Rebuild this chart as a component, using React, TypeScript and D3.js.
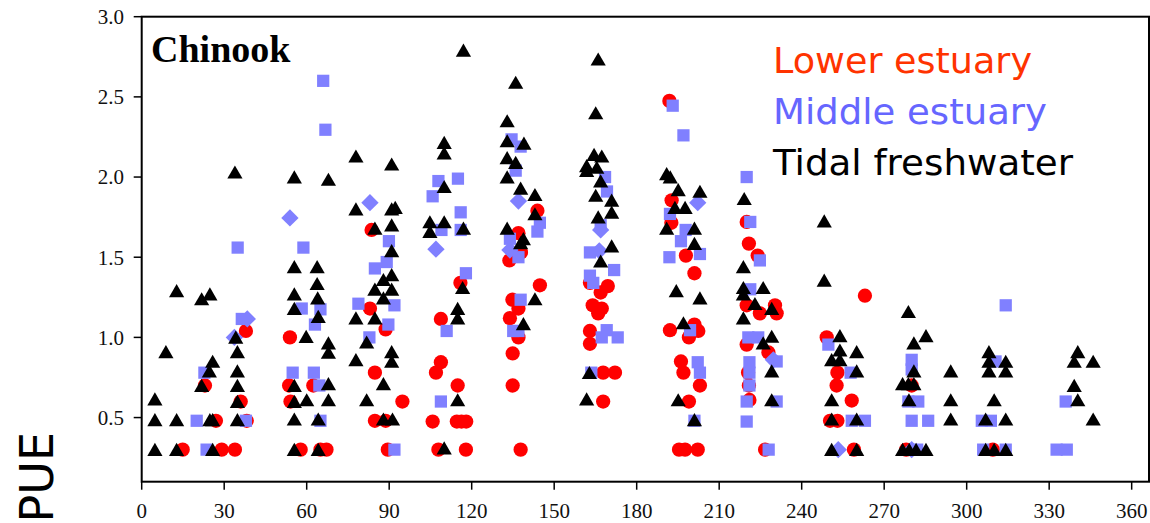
import React from 'react';
import * as d3 from 'd3';

// day of year vs PUE, three estuary zones
const xTicks = [0, 30, 60, 90, 120, 150, 180, 210, 240, 270, 300, 330, 360];
const yTicks = [0.5, 1.0, 1.5, 2.0, 2.5, 3.0];

const legendLabels = ['Lower estuary', 'Middle estuary', 'Tidal freshwater'];

// Lower estuary (red circles)
const lowerEstuary: [number, number][] = [
  [14.9,0.30],[23,0.70],[27,0.48],[29.1,0.30],[33.9,0.30],[36,0.60],[37.9,1.04],[38.2,0.48],
  [53.9,1.0],[53.6,0.70],[54.1,0.60],[57.8,0.30],[62.4,0.70],[65,0.30],[67.2,0.30],
  [83.6,1.67],[83,1.18],[84.8,0.78],[88.7,1.05],[84.8,0.48],[88.7,0.48],[89.5,0.30],[94.8,0.60],
  [108.8,1.115],[108.8,0.845],[107,0.78],[114.9,0.70],[105.8,0.475],[114.6,0.475],[116.3,0.475],[118,0.475],[107.9,0.30],[117.9,0.30],[115.9,1.34],
  [143.9,1.79],[137,1.65],[137.9,1.53],[133.7,1.48],[144.8,1.325],[134.8,1.235],[137,1.18],[133.9,1.12],[137,1.0],[134.9,0.90],[134.9,0.70],[137.8,0.30],
  [163,1.34],[169.5,1.32],[166.9,1.28],[164,1.20],[167.3,1.18],[166,1.15],[163,1.04],[163,0.96],[167.8,0.78],[172.1,0.78],[167.8,0.60],
  [191.9,2.475],[192.7,1.855],[192.6,1.715],[197.9,1.51],[201,1.40],[192.1,1.045],[201,1.08],[202.4,1.04],[199,1.0],[196.1,0.85],[197,0.78],[203,0.70],[199,0.60],[195.4,0.30],[197.6,0.30],[202.2,0.30],
  [220,1.72],[220.8,1.585],[224,1.51],[220,1.20],[224.8,1.15],[230.3,1.20],[230.9,1.15],[220,0.955],[227.9,0.906],[220.5,0.78],[220.8,0.70],[221,0.61],[226.7,0.30],
  [249.1,1.0],[263,1.26],[253,0.78],[252.7,0.70],[258.2,0.606],[250.3,0.48],[253,0.48],[259,0.30],
  [280,0.70],[278,0.30],
  [309.5,0.30],
];

// Middle estuary (blue squares)
const middleSquares: [number, number][] = [
  [20,0.48],[22.8,0.78],[23.6,0.30],[34.9,1.56],[36.4,1.115],[37.9,0.48],
  [54.9,0.78],[58.8,1.56],[58.2,1.18],[65,1.175],[63,1.08],[62.6,0.78],[64.6,0.70],[65,0.48],[66,2.6],[66.8,2.295],
  [78.8,1.21],[82.8,1.0],[84.8,1.43],[89.1,1.47],[89.9,1.60],[89.7,1.08],[91.9,1.20],[91.9,0.30],
  [107.9,1.975],[105.8,1.88],[109,1.67],[115,1.99],[116,1.78],[116,1.67],[117.9,1.40],[110.9,1.04],[108.8,0.60],
  [134.5,2.235],[137.8,2.19],[136,2.04],[144.8,1.715],[143.9,1.66],[133.9,1.615],[137,1.50],[137.8,1.235],[135.1,1.04],[137,1.04],
  [168.5,2.0],[169.2,1.91],[166.9,1.70],[163,1.53],[163,1.385],[164.2,1.34],[171.8,1.42],[167.3,1.0],[169.1,1.045],[173.1,1.0],[163.5,0.78],
  [193.1,2.445],[197,2.26],[192.1,1.77],[197.8,1.67],[196.1,1.60],[203,1.52],[191.9,1.50],[199.4,1.045],[202.2,0.845],[203,0.78],[201,0.48],
  [220,2.0],[221.3,1.72],[224.8,1.48],[221.3,1.30],[220.6,1.0],[224.2,1.0],[221,0.845],[221,0.78],[221,0.70],[220,0.60],[220,0.475],[228,0.30],[230.9,0.85],[230.9,0.60],
  [249.7,0.955],[257.8,0.78],[258.2,0.48],[263,0.48],
  [280,0.86],[280,0.80],[278.8,0.60],[282.4,0.60],[280,0.48],[286,0.48],[282,0.30],
  [314.2,1.20],[310.5,0.85],[305.5,0.48],[308.8,0.48],[306,0.30],[314.2,0.30],
  [336,0.60],[332.7,0.30],[336.4,0.30],
];

// Middle estuary (blue diamonds)
const middleDiamonds: [number, number][] = [
  [33.7,1.0],[38.4,1.115],[53.9,1.745],[83,1.84],[107,1.55],[137,1.85],[133.9,1.545],
  [166.9,1.67],[166.4,1.54],[202.2,1.84],[229.7,0.86],[253.3,0.30],[280,0.30],
];

// Tidal freshwater (black triangles)
const tidalFreshwater: [number, number][] = [
  [4.8,0.615],[4.8,0.486],[4.8,0.30],[8.8,0.91],[12.7,1.29],[12.7,0.486],[12.7,0.30],[21.8,1.24],[24.8,1.27],[25.8,0.85],[24.6,0.79],[21.8,0.70],[24.8,0.486],[25.8,0.486],[25.8,0.30],[33.9,2.03],[34.2,1.0],[34.8,0.91],[34.8,0.79],[34.8,0.70],[34.8,0.60],[34.8,0.486],
  [55.5,2.0],[67.9,1.985],[55.5,1.44],[63.8,1.44],[55.5,1.27],[63.8,1.335],[64,1.245],[55.5,1.18],[64.2,1.13],[59.8,1.005],[67.9,0.965],[67.9,0.906],[55.5,0.70],[67.9,0.71],[55.5,0.6],[60,0.61],[67.9,0.61],[55.5,0.49],[64.2,0.49],[55.5,0.30],[64.2,0.30],
  [77.9,2.13],[77.9,1.80],[77.9,1.12],[77.9,0.86],[81.8,0.97],[81.8,0.61],[84.8,1.68],[84.8,1.30],[84.8,1.12],[87.9,1.36],[87.9,1.245],[87.9,0.71],[87.9,0.49],[90.9,2.08],[90.9,1.80],[92.2,1.81],[90.9,1.70],[90.9,1.54],[90.9,1.39],[90.9,1.30],[90.9,0.91],[90.9,0.85],[91.2,0.49],
  [104.8,1.72],[104.8,1.66],[110,2.215],[110,2.15],[110,1.94],[110,1.72],[110,0.31],[117,2.79],[117,1.68],[116.7,1.31],[114.9,1.18],[114.9,1.12],[114.9,0.61],
  [136,2.59],[132.9,2.35],[132.9,2.225],[139,2.21],[132.9,2.12],[136,2.09],[132.9,2.0],[137.8,1.93],[143,1.89],[143,1.77],[132.9,1.68],[138.8,1.615],[137.8,1.59],[143,1.24],[138.8,1.085],
  [166,2.735],[165.1,2.40],[164.5,2.14],[167.3,2.13],[161.8,2.07],[161.8,2.04],[165.5,2.06],[166.9,1.975],[165.1,1.885],[170.9,1.855],[170.9,1.78],[166,1.75],[170.9,1.57],[166.9,1.475],[162.8,0.78],[161.8,0.615],
  [190.9,2.02],[192.2,2.0],[195.1,1.92],[203,1.91],[193.9,1.81],[197.6,1.81],[190.9,1.68],[201,1.68],[201,1.585],[194.4,1.29],[203,1.245],[197,1.09],[195.1,0.61],[201,0.486],
  [219.1,1.865],[218.8,1.44],[218.8,1.31],[218.8,1.27],[226,1.31],[223,1.21],[229.1,1.18],[218.8,1.12],[226,0.965],[229.1,1.006],[229.1,0.79],[229.1,0.61],
  [248.2,1.725],[248.2,1.356],[253.9,1.01],[253.9,0.92],[250.9,0.86],[253.9,0.86],[260,0.91],[260,0.79],[250.9,0.61],[250.9,0.49],[260,0.49],[250.9,0.30],[260,0.30],
  [278.8,1.16],[285.2,1.01],[280.8,0.965],[280.8,0.79],[276.7,0.71],[278.8,0.71],[280.8,0.71],[279,0.61],[276.7,0.30],[279.1,0.30],[281.6,0.30],[285.2,0.30],
  [294.2,0.79],[294.2,0.61],[294.2,0.49],
  [308.1,0.91],[308.1,0.85],[308.1,0.79],[314.2,0.85],[314.2,0.79],[310,0.61],[306.9,0.49],[314.2,0.49],[306.9,0.30],[310,0.30],[314.2,0.30],
  [340.4,0.91],[339.1,0.85],[346,0.85],[339.1,0.70],[340.4,0.61],[346,0.49],
];

const W = 1150;
const H = 523;
const left = 141.7, right = 1149, top = 16.7, bottom = 481.7;

export default function App() {
  const x = d3.scaleLinear().domain([0, 366.3]).range([left, right]);
  const y = d3.scaleLinear().domain([0.1, 3.0]).range([bottom, top]);

  const circlePath = d3.symbol(d3.symbolCircle, 160)() as string;
  const squarePath = d3.symbol(d3.symbolSquare, 150)() as string;
  const trianglePath = d3.symbol(d3.symbolTriangle, 100)() as string;

  const serif = '"Liberation Serif", "Times New Roman", serif';
  const sans = '"DejaVu Sans", sans-serif';
  const legendColors = ['#ff3300', '#6666ff', '#000000'];
  const legendWidths = [259, 274, 300];

  return (
    <svg width={W} height={H} style={{ display: 'block', position: 'absolute', left: 0, top: 0 }}>
      <rect width={W} height={H} fill="#fff" />

      {/* markers */}
      <g fill="#ff0000">
        {lowerEstuary.map((d, i) => (
          <path key={i} d={circlePath} transform={`translate(${x(d[0])},${y(d[1])})`} />
        ))}
      </g>
      <g fill="#8080ff">
        {middleSquares.map((d, i) => (
          <path key={i} d={squarePath} transform={`translate(${x(d[0])},${y(d[1])})`} />
        ))}
        {middleDiamonds.map((d, i) => (
          <path key={'d' + i} d={squarePath} transform={`translate(${x(d[0])},${y(d[1])}) rotate(45)`} />
        ))}
      </g>
      <g fill="#000">
        {tidalFreshwater.map((d, i) => (
          <path key={i} d={trianglePath} transform={`translate(${x(d[0])},${y(d[1]) + 2})`} />
        ))}
      </g>

      {/* frame */}
      <rect x={left} y={top} width={right - left} height={bottom - top} fill="none" stroke="#000" strokeWidth={2} />

      {/* x axis */}
      <g>
        {xTicks.map((t) => (
          <g key={t}>
            <line x1={x(t)} x2={x(t)} y1={bottom} y2={bottom + 8} stroke="#000" strokeWidth={1.5} />
            <text x={x(t)} y={518} textAnchor="middle" fontFamily={serif} fontSize={21} fill="#111">
              {t}
            </text>
          </g>
        ))}
      </g>

      {/* y axis */}
      <g>
        {yTicks.map((t) => (
          <g key={t}>
            <line x1={left - 8} x2={left} y1={y(t)} y2={y(t)} stroke="#000" strokeWidth={1.5} />
            <text x={124} y={y(t)} dy="0.35em" textAnchor="end" fontFamily={serif} fontSize={21} fill="#111">
              {d3.format('.1f')(t)}
            </text>
          </g>
        ))}
      </g>

      <text transform="translate(53,432) rotate(-90)" textAnchor="end" fontFamily={sans} fontSize={46} fill="#000">
        PUE
      </text>

      <text x={151} y={62} fontFamily={serif} fontWeight="bold" fontSize={38} fill="#000">
        Chinook
      </text>

      {legendLabels.map((label, i) => (
        <text
          key={label}
          x={773}
          y={73 + i * 51}
          fontFamily={sans}
          fontSize={36}
          fill={legendColors[i]}
          textLength={legendWidths[i]}
          lengthAdjust="spacingAndGlyphs"
        >
          {label}
        </text>
      ))}
    </svg>
  );
}
